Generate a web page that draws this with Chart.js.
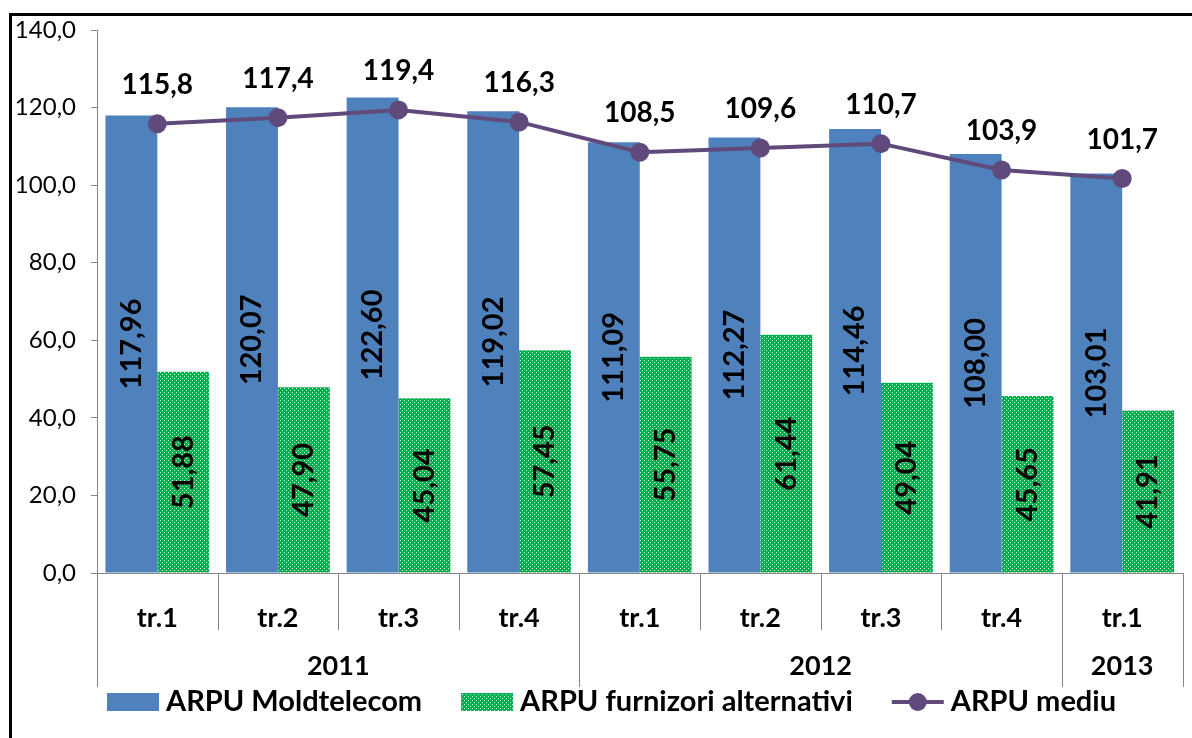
<!DOCTYPE html>
<html>
<head>
<meta charset="utf-8">
<script src="https://cdn.jsdelivr.net/npm/chart.js@4.4.0/dist/chart.umd.min.js"></script>
<style>
  html, body { margin: 0; padding: 0; background: #fff; }
  #wrap { width: 1192px; height: 738px; position: relative; }
</style>
</head>
<body>
<div id="wrap"><canvas id="arpu" width="1192" height="738"></canvas></div>
<script>
// data
const quarters = ['tr.1', 'tr.2', 'tr.3', 'tr.4', 'tr.1', 'tr.2', 'tr.3', 'tr.4', 'tr.1'];
const years = ['2011', '2012', '2013'];
const yearSpans = [4, 4, 1];
const moldtelecom = [117.96, 120.07, 122.60, 119.02, 111.09, 112.27, 114.46, 108.00, 103.01];
const alternativi = [51.88, 47.90, 45.04, 57.45, 55.75, 61.44, 49.04, 45.65, 41.91];
const mediu = [115.8, 117.4, 119.4, 116.3, 108.5, 109.6, 110.7, 103.9, 101.7];
const yMin = 0, yMax = 140, yStep = 20;

const BLUE = '#4F81BD';
const PURPLE = '#604A7B';
const GREY = '#868686';

const fmt = (v, d) => v.toFixed(d).replace('.', ',');

// green with white dots, like the excel fill pattern
function dots() {
  const c = document.createElement('canvas');
  c.width = 4; c.height = 4;
  const g = c.getContext('2d');
  g.fillStyle = '#00B050';
  g.fillRect(0, 0, 4, 4);
  g.fillStyle = 'rgba(255,255,255,0.8)';
  g.fillRect(0, 0, 1, 1);
  g.fillRect(2, 2, 1, 1);
  return g.createPattern(c, 'repeat');
}
const greenFill = dots();

const valueLabels = {
  id: 'valueLabels',
  afterDatasetsDraw(chart) {
    const ctx = chart.ctx;
    ctx.save();
    ctx.fillStyle = '#000';
    ctx.textAlign = 'center';
    ctx.textBaseline = 'middle';
    chart.data.datasets.forEach((ds, i) => {
      const meta = chart.getDatasetMeta(i);
      meta.data.forEach((el, j) => {
        const v = ds.data[j];
        if (ds.type === 'line') {
          ctx.font = 'bold 28px Lato';
          ctx.fillText(fmt(v, 1), el.x, el.y - 39);
        } else {
          ctx.font = 'bold 29px Lato';
          ctx.save();
          ctx.translate(el.x, (el.y + el.base) / 2);
          ctx.rotate(-Math.PI / 2);
          ctx.fillText(fmt(v, 2), 0, 0);
          ctx.restore();
        }
      });
    });
    ctx.restore();
  }
};

const groupsAndLegend = {
  id: 'groupsAndLegend',
  afterDraw(chart) {
    const {ctx, chartArea, scales: {x}} = chart;
    const step = x.getPixelForValue(1) - x.getPixelForValue(0);
    const bottom = chartArea.bottom;
    ctx.save();

    // category / year separators
    const groupEdges = [0];
    yearSpans.forEach(s => groupEdges.push(groupEdges[groupEdges.length - 1] + s));
    ctx.strokeStyle = GREY;
    ctx.lineWidth = 1;
    for (let i = 0; i <= quarters.length; i++) {
      const px = Math.round(x.getPixelForValue(i) - step / 2) + 0.5;
      const len = groupEdges.includes(i) ? 114 : 57;
      ctx.beginPath();
      ctx.moveTo(px, bottom);
      ctx.lineTo(px, bottom + len);
      ctx.stroke();
    }

    // year row
    ctx.fillStyle = '#000';
    ctx.font = 'bold 27px Lato';
    ctx.textAlign = 'center';
    ctx.textBaseline = 'middle';
    years.forEach((yr, g) => {
      const x0 = x.getPixelForValue(groupEdges[g]) - step / 2;
      const x1 = x.getPixelForValue(groupEdges[g + 1] - 1) + step / 2;
      ctx.fillText(yr, (x0 + x1) / 2, bottom + 93);
    });

    // legend: bars first, then the line
    const ly = bottom + 129;
    let lx = 107;
    ctx.font = 'bold 29px Lato';
    ctx.textAlign = 'left';
    const items = chart.data.datasets.filter(d => d.type !== 'line')
      .concat(chart.data.datasets.filter(d => d.type === 'line'));
    items.forEach(ds => {
      if (ds.type === 'line') {
        ctx.strokeStyle = PURPLE;
        ctx.lineWidth = 4;
        ctx.beginPath();
        ctx.moveTo(lx, ly);
        ctx.lineTo(lx + 52, ly);
        ctx.stroke();
        ctx.fillStyle = PURPLE;
        ctx.beginPath();
        ctx.arc(lx + 26, ly, 9, 0, Math.PI * 2);
        ctx.fill();
      } else {
        ctx.fillStyle = ds.backgroundColor;
        ctx.fillRect(lx, ly - 9, 52, 18);
      }
      lx += 59;
      ctx.fillStyle = '#000';
      ctx.fillText(ds.label, lx, ly);
      lx += ctx.measureText(ds.label).width + 39;
    });

    // outer frame
    ctx.fillStyle = '#000';
    ctx.fillRect(9, 13, chart.width - 9, 3);
    ctx.fillRect(9, 13, 3, chart.height - 13);
    ctx.restore();
  }
};

Chart.defaults.font.family = 'Lato';
Chart.defaults.color = '#000';

new Chart(document.getElementById('arpu').getContext('2d'), {
  type: 'bar',
  data: {
    labels: quarters,
    datasets: [
      {
        type: 'line',
        label: 'ARPU mediu',
        data: mediu,
        borderColor: PURPLE,
        backgroundColor: PURPLE,
        borderWidth: 4,
        pointRadius: 9.5,
        pointBorderWidth: 0,
        pointBackgroundColor: PURPLE,
        tension: 0,
        order: 0
      },
      {
        label: 'ARPU Moldtelecom',
        data: moldtelecom,
        backgroundColor: BLUE,
        order: 1
      },
      {
        label: 'ARPU furnizori alternativi',
        data: alternativi,
        backgroundColor: greenFill,
        order: 1
      }
    ]
  },
  options: {
    responsive: false,
    devicePixelRatio: 1,
    animation: false,
    layout: { padding: { top: 30, right: 2, left: 0, bottom: 0 } },
    datasets: {
      bar: { categoryPercentage: 0.86, barPercentage: 1.0 }
    },
    plugins: {
      legend: { display: false },
      tooltip: { enabled: false }
    },
    scales: {
      x: {
        grid: { display: false },
        border: { color: GREY },
        ticks: { font: { size: 27, weight: 'bold' }, padding: 21, maxRotation: 0 },
        afterFit(scale) { scale.height = 165; }
      },
      y: {
        min: yMin,
        max: yMax,
        grid: { drawOnChartArea: false, drawTicks: true, tickLength: 6, color: GREY },
        border: { color: GREY },
        ticks: {
          stepSize: yStep,
          font: { size: 24 },
          padding: 15,
          callback: v => fmt(v, 1)
        },
        afterFit(scale) { scale.width = 97; }
      }
    }
  },
  plugins: [valueLabels, groupsAndLegend]
});
</script>
</body>
</html>
